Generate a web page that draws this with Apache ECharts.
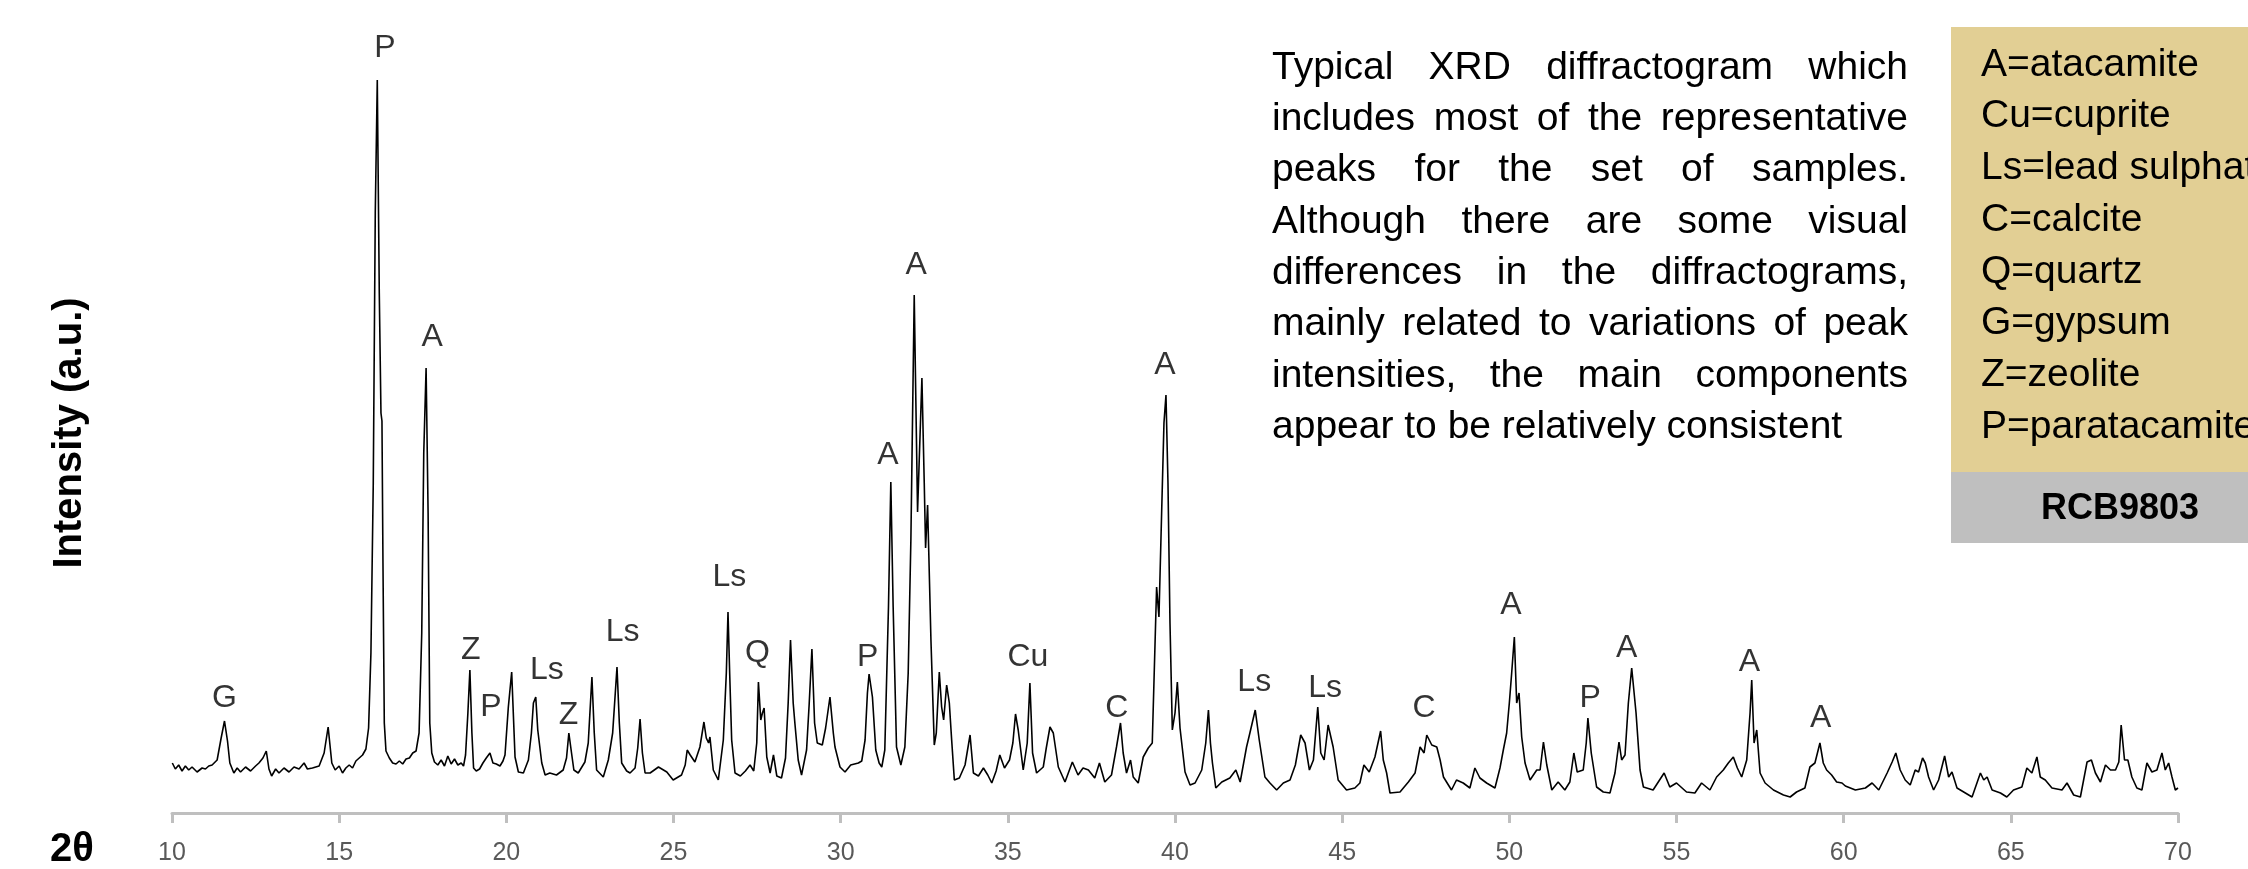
<!DOCTYPE html>
<html>
<head>
<meta charset="utf-8">
<title>XRD diffractogram RCB9803</title>
<script src="https://cdn.jsdelivr.net/npm/echarts@6/dist/echarts.min.js"></script>
<style>
  html, body { margin: 0; padding: 0; background: #fff; }
  #chart { width: 2248px; height: 869px; }
</style>
</head>
<body>
<div id="chart"></div>
<script>
// scan, [2theta, intensity a.u.], split in 10 degree pieces
const scan10to20 = [[10.01,50],[10.1,44],[10.2,48],[10.3,42],[10.4,47],[10.5,43],[10.6,46],[10.75,41],[10.9,45],[11.0,44],[11.1,47],[11.2,48],[11.35,53],[11.47,75],[11.57,92],[11.66,72],[11.73,50],[11.85,40],[11.95,45],[12.05,41],[12.2,46],[12.35,42],[12.5,47],[12.6,50],[12.72,55],[12.82,62],[12.9,44],[12.98,37],[13.1,44],[13.2,40],[13.35,45],[13.5,41],[13.65,46],[13.8,44],[13.95,50],[14.05,44],[14.2,45],[14.4,47],[14.55,60],[14.67,86],[14.78,50],[14.88,43],[15.0,47],[15.1,40],[15.2,45],[15.3,48],[15.4,45],[15.5,52],[15.6,55],[15.7,58],[15.8,64],[15.88,85],[15.95,160],[16.02,330],[16.08,600],[16.14,733],[16.2,520],[16.25,400],[16.28,392],[16.31,250],[16.35,90],[16.4,62],[16.5,55],[16.6,50],[16.7,49],[16.8,52],[16.9,49],[17.0,54],[17.1,55],[17.2,60],[17.3,62],[17.39,80],[17.47,180],[17.53,360],[17.6,445],[17.66,300],[17.71,90],[17.77,60],[17.85,51],[17.95,48],[18.05,53],[18.15,47],[18.25,57],[18.35,49],[18.45,54],[18.55,48],[18.65,50],[18.72,47],[18.78,58],[18.85,100],[18.91,143],[18.97,80],[19.02,45],[19.1,42],[19.2,44],[19.3,50],[19.4,55],[19.51,60],[19.6,50],[19.7,49],[19.81,47],[19.9,52],[19.96,58]]
const scan20to30 = [[20.06,106],[20.16,141],[20.26,56],[20.36,41],[20.51,40],[20.66,53],[20.75,80],[20.81,110],[20.88,116],[20.94,83],[21.06,50],[21.16,38],[21.3,40],[21.5,38],[21.7,43],[21.8,55],[21.87,80],[21.95,60],[22.02,43],[22.15,40],[22.35,51],[22.45,70],[22.56,136],[22.63,80],[22.7,43],[22.9,36],[23.05,53],[23.18,80],[23.31,146],[23.38,90],[23.45,50],[23.6,42],[23.7,40],[23.85,45],[23.93,65],[24.0,94],[24.07,60],[24.15,40],[24.3,40],[24.55,46],[24.8,41],[24.99,33],[25.24,38],[25.35,48],[25.41,63],[25.5,58],[25.64,51],[25.79,66],[25.91,91],[25.98,75],[26.05,70],[26.09,76],[26.19,43],[26.34,33],[26.49,73],[26.58,140],[26.63,201],[26.68,140],[26.74,73],[26.84,40],[27.0,37],[27.15,42],[27.29,48],[27.4,42],[27.49,70],[27.54,131],[27.61,93],[27.66,100],[27.71,105],[27.79,56],[27.89,40],[27.99,58],[28.09,37],[28.23,35],[28.35,55],[28.43,110],[28.5,173],[28.58,110],[28.63,90],[28.73,53],[28.83,38],[28.98,63],[29.06,110],[29.14,164],[29.22,90],[29.3,70],[29.45,68],[29.55,85],[29.68,116],[29.78,80],[29.83,66],[29.98,46]]
const scan30to40 = [[30.13,41],[30.3,48],[30.53,50],[30.63,52],[30.73,73],[30.8,120],[30.85,139],[30.95,116],[31.05,63],[31.15,50],[31.23,46],[31.32,63],[31.43,206],[31.5,331],[31.57,206],[31.67,66],[31.8,48],[31.92,66],[32.02,140],[32.1,273],[32.2,518],[32.3,301],[32.43,435],[32.5,330],[32.54,265],[32.6,308],[32.7,173],[32.8,68],[32.86,80],[32.95,141],[33.02,106],[33.08,93],[33.17,128],[33.25,110],[33.32,73],[33.4,33],[33.55,35],[33.72,48],[33.87,78],[33.97,40],[34.12,37],[34.27,45],[34.4,38],[34.52,30],[34.65,42],[34.76,58],[34.9,45],[35.05,53],[35.15,70],[35.23,99],[35.31,83],[35.46,43],[35.58,70],[35.66,130],[35.74,60],[35.86,40],[36.06,46],[36.15,65],[36.26,86],[36.36,80],[36.51,46],[36.71,31],[36.93,51],[37.1,38],[37.25,45],[37.41,43],[37.6,35],[37.74,50],[37.9,31],[38.1,38],[38.25,66],[38.37,90],[38.45,60],[38.55,40],[38.67,53],[38.75,36],[38.9,30],[39.05,56],[39.2,65],[39.32,70],[39.45,226],[39.52,196],[39.6,300],[39.67,390],[39.73,418],[39.79,330],[39.85,190],[39.92,83]]
const scan40to50 = [[40.0,100],[40.07,131],[40.15,85],[40.3,41],[40.45,28],[40.6,30],[40.8,43],[40.92,70],[41.0,103],[41.06,70],[41.12,50],[41.22,25],[41.4,31],[41.64,35],[41.82,43],[41.95,31],[42.14,66],[42.24,80],[42.4,103],[42.52,73],[42.69,36],[42.84,30],[43.04,23],[43.24,30],[43.44,33],[43.6,48],[43.76,78],[43.89,70],[44.02,43],[44.14,53],[44.27,106],[44.36,60],[44.46,53],[44.58,88],[44.73,66],[44.88,33],[45.13,23],[45.38,25],[45.53,30],[45.65,48],[45.81,41],[45.98,56],[46.15,82],[46.23,53],[46.33,40],[46.43,20],[46.73,21],[46.98,31],[47.18,40],[47.33,66],[47.45,60],[47.53,78],[47.68,68],[47.83,66],[47.93,53],[48.03,36],[48.27,23],[48.42,33],[48.62,30],[48.82,25],[48.97,45],[49.12,35],[49.32,30],[49.57,25],[49.72,45],[49.82,63],[49.92,80]]
const scan50to60 = [[50.0,110],[50.07,140],[50.15,176],[50.22,110],[50.29,120],[50.37,76],[50.47,50],[50.62,33],[50.82,43],[50.92,43],[51.02,71],[51.12,48],[51.27,23],[51.46,31],[51.66,23],[51.81,31],[51.93,60],[52.03,41],[52.21,43],[52.3,70],[52.35,95],[52.45,60],[52.61,26],[52.81,21],[53.01,20],[53.16,40],[53.28,71],[53.36,53],[53.46,58],[53.56,110],[53.66,145],[53.79,100],[53.91,43],[54.01,26],[54.3,23],[54.63,40],[54.8,26],[55.0,30],[55.3,21],[55.55,20],[55.75,30],[56.0,23],[56.2,36],[56.4,43],[56.55,50],[56.7,56],[56.82,45],[56.95,36],[57.1,53],[57.2,100],[57.25,133],[57.32,70],[57.4,83],[57.5,40],[57.65,30],[57.9,23],[58.2,18],[58.4,16],[58.59,21],[58.84,25],[58.99,46],[59.14,50],[59.29,70],[59.39,50],[59.49,43],[59.64,38],[59.79,31],[59.95,30]]
const scan60to70 = [[60.05,27],[60.35,23],[60.65,25],[60.85,30],[61.05,23],[61.3,40],[61.45,51],[61.56,60],[61.69,43],[61.84,33],[61.99,28],[62.14,43],[62.24,41],[62.36,55],[62.44,50],[62.54,36],[62.69,23],[62.84,33],[63.02,57],[63.14,36],[63.24,41],[63.39,25],[63.64,20],[63.84,16],[64.09,40],[64.19,33],[64.29,36],[64.44,23],[64.69,20],[64.88,16],[65.08,23],[65.33,26],[65.48,45],[65.63,40],[65.78,56],[65.88,36],[66.03,33],[66.23,25],[66.53,23],[66.68,30],[66.88,18],[67.08,16],[67.28,51],[67.41,53],[67.53,40],[67.68,31],[67.83,48],[67.98,43],[68.13,43],[68.23,51],[68.3,88],[68.4,53],[68.5,53],[68.62,36],[68.77,25],[68.92,23],[69.07,50],[69.22,41],[69.37,43],[69.52,60],[69.62,43],[69.72,50],[69.82,36],[69.92,23],[70.0,25]]

// peak labels: [phase, 2theta, intensity]
const peakLabels = [
  ['G', 11.57, 115], ['P', 16.37, 765], ['A', 17.78, 476], ['Z', 18.94, 163], ['P', 19.54, 106],
  ['Ls', 21.21, 143], ['Z', 21.86, 98], ['Ls', 23.48, 181], ['Ls', 26.67, 236], ['Q', 27.51, 160],
  ['P', 30.81, 156], ['A', 31.41, 358], ['A', 32.26, 548], ['Cu', 35.6, 156], ['C', 38.26, 105],
  ['A', 39.7, 448], ['Ls', 42.37, 131], ['Ls', 44.49, 125], ['C', 47.45, 105], ['A', 50.05, 208],
  ['P', 52.42, 115], ['A', 53.51, 165], ['A', 57.18, 151], ['A', 59.31, 95]
]

const phaseKey = ['A=atacamite', 'Cu=cuprite', 'Ls=lead sulphate', 'C=calcite', 'Q=quartz', 'G=gypsum', 'Z=zeolite', 'P=paratacamite']
const sampleName = 'RCB9803'
const noteLines = [
  'Typical XRD diffractogram which',
  'includes most of the representative',
  'peaks for the set of samples.',
  'Although there are some visual',
  'differences in the diffractograms,',
  'mainly related to variations of peak',
  'intensities, the main components',
  'appear to be relatively consistent'
]

const FONT = '"Liberation Sans", Arial, sans-serif'
const NOTE_SIZE = 39
const NOTE_LEFT = 1272
const NOTE_RIGHT = 1908

// 用 canvas 量字宽，做两端对齐
const measureCtx = document.createElement('canvas').getContext('2d')
const textWidth = (s, size) => {
  measureCtx.font = size + 'px ' + FONT
  return measureCtx.measureText(s).width
}

const justifiedLine = (line, y, justify) => {
  const words = line.split(' ')
  const widths = words.map(w => textWidth(w, NOTE_SIZE))
  const total = widths.reduce((a, b) => a + b, 0)
  const gap = justify && words.length > 1
    ? (NOTE_RIGHT - NOTE_LEFT - total) / (words.length - 1)
    : textWidth(' ', NOTE_SIZE)
  let x = NOTE_LEFT
  return words.map((w, i) => {
    const el = {
      type: 'text', x, y,
      style: { text: w, fontSize: NOTE_SIZE, fontFamily: FONT, fill: '#000', align: 'left', verticalAlign: 'middle' }
    }
    x += widths[i] + gap
    return el
  })
}

const noteElements = noteLines.flatMap((line, i) => justifiedLine(line, 68 + i * 51.3, i < noteLines.length - 1))

const keyElements = phaseKey.map((t, i) => ({
  type: 'text', x: 1981, y: 65 + i * 51.7,
  style: { text: t, fontSize: NOTE_SIZE, fontFamily: FONT, fill: '#000', align: 'left', verticalAlign: 'middle' }
}))

const chart = echarts.init(document.getElementById('chart'))

const option = {
  animation: false,
  backgroundColor: '#fff',
  grid: { left: 172, right: 70, top: 13, bottom: 56 },
  xAxis: {
    type: 'value',
    min: 10,
    max: 70,
    interval: 5,
    axisLine: { lineStyle: { color: '#bfbfbf', width: 3 } },
    axisTick: { show: true, length: 10, lineStyle: { color: '#bfbfbf', width: 3 } },
    axisLabel: { color: '#595959', fontSize: 25, fontFamily: FONT, margin: 28 },
    splitLine: { show: false }
  },
  yAxis: {
    type: 'value',
    min: 0,
    max: 800,
    show: false
  },
  series: [
    {
      name: 'RCB9803',
      type: 'line',
      data: [...scan10to20, ...scan20to30, ...scan30to40, ...scan40to50, ...scan50to60, ...scan60to70],
      showSymbol: false,
      lineStyle: { color: '#000', width: 1.6 },
      z: 2
    },
    {
      name: 'labels',
      type: 'scatter',
      symbolSize: 0,
      data: peakLabels.map(([name, x, y]) => ({ name, value: [x, y] })),
      label: {
        show: true,
        position: 'inside',
        formatter: p => p.name,
        color: '#000',
        fontSize: 32,
        fontFamily: FONT
      },
      z: 3
    }
  ],
  graphic: [
    // 右侧物相说明框
    { type: 'rect', shape: { x: 1951, y: 27, width: 400, height: 445 }, style: { fill: '#e2cf94' } },
    { type: 'rect', shape: { x: 1951, y: 472, width: 400, height: 71 }, style: { fill: '#bfbfbf' } },
    ...keyElements,
    {
      type: 'text', x: 2120, y: 509,
      style: { text: sampleName, fontSize: 36, fontWeight: 'bold', fontFamily: FONT, fill: '#000', align: 'center', verticalAlign: 'middle' }
    },
    ...noteElements,
    // 坐标轴标题
    {
      type: 'text', x: 70, y: 433, rotation: Math.PI / 2,
      style: { text: 'Intensity (a.u.)', fontSize: 40, fontWeight: 'bold', fontFamily: FONT, fill: '#000', align: 'center', verticalAlign: 'middle' }
    },
    {
      type: 'text', x: 72, y: 850,
      style: { text: '2θ', fontSize: 40, fontWeight: 'bold', fontFamily: FONT, fill: '#000', align: 'center', verticalAlign: 'middle' }
    }
  ]
}

chart.setOption(option)
</script>
</body>
</html>
